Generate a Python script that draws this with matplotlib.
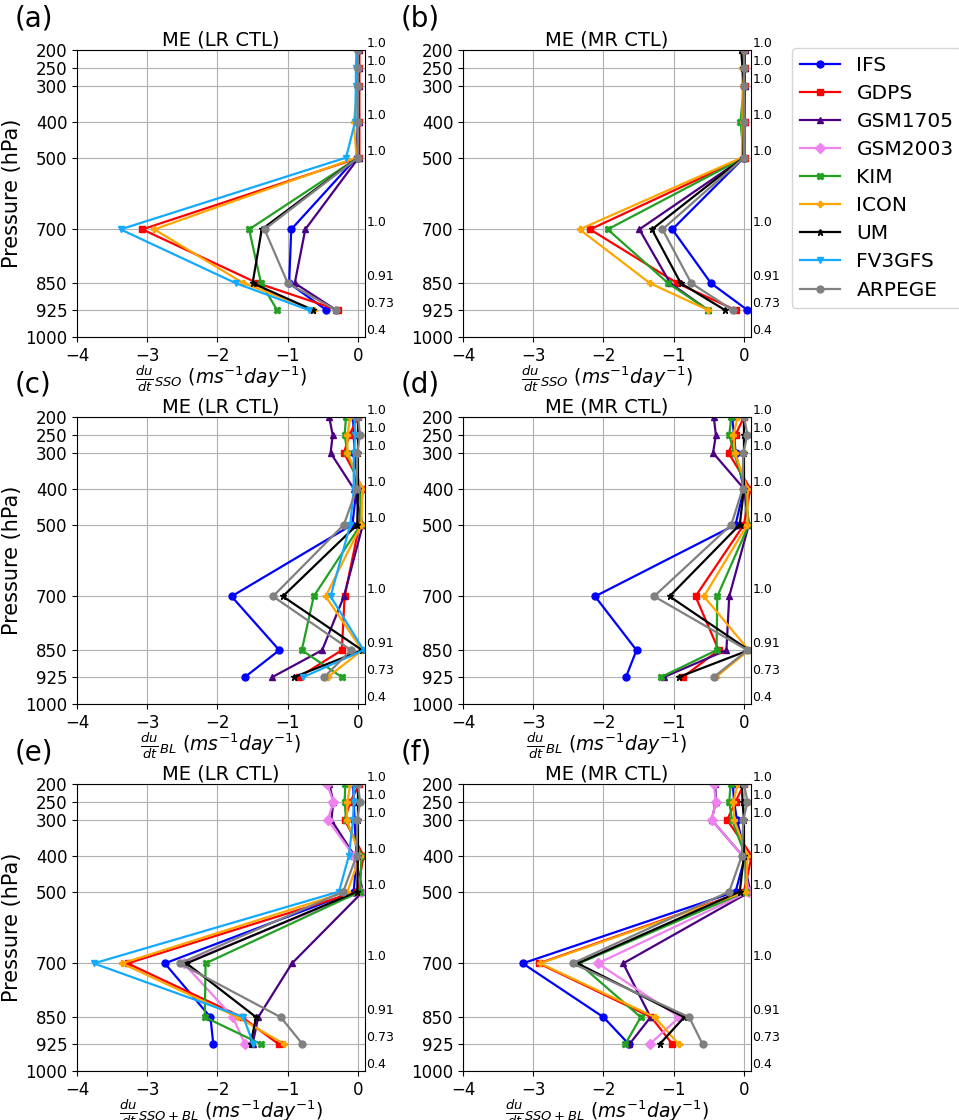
import numpy as np
import matplotlib
matplotlib.use('Agg')
import matplotlib.pyplot as plt

#---------------------------------------------
#data: mean error of wind tendency per pressure level
#---------------------------------------------
levels = [200, 250, 300, 400, 500, 700, 850, 925]
yticks = [200, 250, 300, 400, 500, 700, 850, 925, 1000]
ratio_labels = ['1.0', '1.0', '1.0', '1.0', '1.0', '1.0', '0.91', '0.73', '0.4']

models = ['IFS', 'GDPS', 'GSM1705', 'GSM2003', 'KIM', 'ICON', 'UM', 'FV3GFS', 'ARPEGE']
colors = ['blue', 'red', '#4b0082', 'violet', '#22a022', 'orange', 'black', '#12aaff', 'grey']
markers = ['o', 's', '^', 'D', 'X', 'P', '*', 'v', 'o']

#(a) SSO, LR
sso_lr = {
	'IFS':     [0, 0, 0, 0, -0.02, -0.95, -0.98, -0.45],
	'GDPS':    [0.02, 0.02, 0.02, 0.02, 0.02, -3.07, -1.43, -0.28],
	'GSM1705': [0.01, 0.01, 0.01, 0.01, 0.01, -0.75, -0.90, -0.31],
	'GSM2003': None,
	'KIM':     [0, 0, 0, 0, 0, -1.55, -1.38, -1.15],
	'ICON':    [0, -0.01, 0, -0.06, -0.02, -2.90, -1.63, -0.62],
	'UM':      [0, 0, 0, 0, 0, -1.37, -1.50, -0.64],
	'FV3GFS':  [-0.02, -0.03, -0.03, -0.04, -0.17, -3.38, -1.74, -0.70],
	'ARPEGE':  [0, 0, 0, 0, 0, -1.33, -1.00, -0.31],
}
#(b) SSO, MR
sso_mr = {
	'IFS':     [0, 0, 0, 0, 0, -1.02, -0.47, 0.05],
	'GDPS':    [0.01, 0.01, 0.01, 0.01, 0.01, -2.19, -0.95, -0.12],
	'GSM1705': [0.01, 0.01, 0.01, 0.0, 0.0, -1.49, -1.05, -0.51],
	'GSM2003': None,
	'KIM':     [0, 0, 0, -0.05, 0, -1.94, -1.08, -0.51],
	'ICON':    [-0.01, -0.03, -0.02, -0.02, -0.03, -2.34, -1.34, -0.51],
	'UM':      [-0.04, -0.02, 0, 0, -0.01, -1.31, -0.90, -0.27],
	'FV3GFS':  None,
	'ARPEGE':  [0, 0, 0, 0, 0, -1.16, -0.75, -0.16],
}
#(c) BL, LR
bl_lr = {
	'IFS':     [-0.07, -0.06, -0.05, -0.02, -0.08, -1.80, -1.12, -1.61],
	'GDPS':    [0.0, -0.12, -0.20, 0.07, 0.02, -0.19, -0.23, -0.84],
	'GSM1705': [-0.41, -0.36, -0.39, -0.06, 0.07, -0.20, -0.51, -1.22],
	'GSM2003': None,
	'KIM':     [-0.17, -0.19, -0.15, 0.03, 0.04, -0.63, -0.80, -0.23],
	'ICON':    [-0.11, -0.15, -0.15, 0.06, 0.05, -0.46, 0.06, -0.43],
	'UM':      [0, 0, 0, 0, -0.01, -1.07, 0.06, -0.91],
	'FV3GFS':  [-0.05, -0.04, -0.06, -0.06, -0.11, -0.39, 0.08, -0.78],
	'ARPEGE':  [0, 0.03, -0.01, -0.02, -0.20, -1.21, -0.10, -0.48],
}
#(d) BL, MR
bl_mr = {
	'IFS':     [-0.17, -0.14, -0.12, 0.0, -0.12, -2.12, -1.53, -1.68],
	'GDPS':    [0.0, -0.12, -0.22, 0.09, 0.0, -0.69, -0.36, -0.87],
	'GSM1705': [-0.43, -0.40, -0.44, 0.0, 0.07, -0.21, -0.25, -1.14],
	'GSM2003': None,
	'KIM':     [-0.18, -0.21, -0.14, 0.02, 0.07, -0.38, -0.39, -1.18],
	'ICON':    [-0.09, -0.15, -0.13, 0.05, 0.05, -0.57, 0.07, -0.40],
	'UM':      [0, 0, 0, 0, -0.06, -1.06, 0.07, -0.93],
	'FV3GFS':  None,
	'ARPEGE':  [0, 0.05, -0.01, -0.02, -0.18, -1.28, 0.05, -0.43],
}
#(e) SSO+BL, LR
tot_lr = {
	'IFS':     [-0.07, -0.06, -0.05, -0.02, -0.06, -2.75, -2.10, -2.06],
	'GDPS':    [0.02, -0.11, -0.19, 0.08, -0.01, -3.28, -1.65, -1.13],
	'GSM1705': [-0.41, -0.35, -0.38, -0.05, 0.07, -0.94, -1.42, -1.50],
	'GSM2003': [-0.44, -0.35, -0.43, -0.06, 0.05, -2.48, -1.78, -1.61],
	'KIM':     [-0.18, -0.19, -0.17, 0.05, 0.03, -2.17, -2.18, -1.38],
	'ICON':    [-0.11, -0.15, -0.16, 0.03, -0.15, -3.36, -1.71, -1.05],
	'UM':      [0, 0, 0, 0, -0.01, -2.44, -1.45, -1.53],
	'FV3GFS':  [-0.06, -0.06, -0.07, -0.13, -0.27, -3.76, -1.63, -1.49],
	'ARPEGE':  [0, 0.03, -0.01, -0.02, -0.21, -2.54, -1.10, -0.79],
}
#(f) SSO+BL, MR
tot_mr = {
	'IFS':     [-0.16, -0.14, -0.10, 0.02, -0.12, -3.15, -2.00, -1.64],
	'GDPS':    [0.0, -0.12, -0.24, 0.11, 0.0, -2.92, -1.32, -1.02],
	'GSM1705': [-0.41, -0.40, -0.46, -0.02, 0.09, -1.72, -1.33, -1.63],
	'GSM2003': [-0.43, -0.40, -0.46, -0.02, 0.07, -2.08, -0.92, -1.34],
	'KIM':     [-0.19, -0.21, -0.17, 0.02, 0.03, -2.35, -1.47, -1.69],
	'ICON':    [-0.09, -0.15, -0.14, 0.05, 0.03, -2.90, -1.27, -0.93],
	'UM':      [-0.03, -0.02, 0, 0, -0.06, -2.37, -0.85, -1.20],
	'FV3GFS':  None,
	'ARPEGE':  [0, 0.05, -0.01, -0.03, -0.21, -2.44, -0.78, -0.59],
}

panels = [sso_lr, sso_mr, bl_lr, bl_mr, tot_lr, tot_mr]
panel_tags = ['(a)', '(b)', '(c)', '(d)', '(e)', '(f)']
titles = ['ME (LR CTL)', 'ME (MR CTL)'] * 3
xlabels = [r'$\frac{du}{dt}_{SSO}$ $(ms^{-1}day^{-1})$'] * 2 + \
	[r'$\frac{du}{dt}_{BL}$ $(ms^{-1}day^{-1})$'] * 2 + \
	[r'$\frac{du}{dt}_{SSO+BL}$ $(ms^{-1}day^{-1})$'] * 2

#---------------------------------------------
#figure
#---------------------------------------------
fig = plt.figure(figsize=(9.59, 11.2), dpi=100)
W, H = 959.0, 1120.0
col_x = [77, 463]
row_y = [50, 417, 784]
ax_w, ax_h = 288, 287

axes = []
for i, data in enumerate(panels):
	r, c = i // 2, i % 2
	ax = fig.add_axes([col_x[c]/W, 1 - (row_y[r] + ax_h)/H, ax_w/W, ax_h/H])
	for m, col, mk in zip(models, colors, markers):
		vals = data[m]
		if vals is None:
			continue
		ax.plot(vals, levels, color=col, marker=mk, markersize=5, linewidth=1.6, label=m)
	ax.set_xlim(-4, 0.1)
	ax.set_ylim(1000, 200)
	ax.set_yticks(yticks)
	ax.set_xticks([-4, -3, -2, -1, 0])
	ax.tick_params(labelsize=12)
	ax.grid(True, color='#b0b0b0')
	ax.set_title(titles[i], fontsize=14, pad=3)
	ax.set_xlabel(xlabels[i], fontsize=13.5, labelpad=-1)
	if c == 0:
		ax.set_ylabel('Pressure (hPa)', fontsize=15, labelpad=2)
	for p, t in zip(yticks, ratio_labels):
		ax.text(1.005, p, t, transform=ax.get_yaxis_transform(), fontsize=9, va='bottom', ha='left')
	fig.text((col_x[c] - 62)/W, 1 - (row_y[r] - 32)/H, panel_tags[i], fontsize=20, va='center', ha='left')
	axes.append(ax)

handles, labels = axes[4].get_legend_handles_labels()
fig.legend(handles, labels, loc='upper left', bbox_to_anchor=(792/W, 1 - 48/H), fontsize=14.5,
	labelspacing=0.45, frameon=True, borderaxespad=0)

plt.savefig('out.png', dpi=100)
